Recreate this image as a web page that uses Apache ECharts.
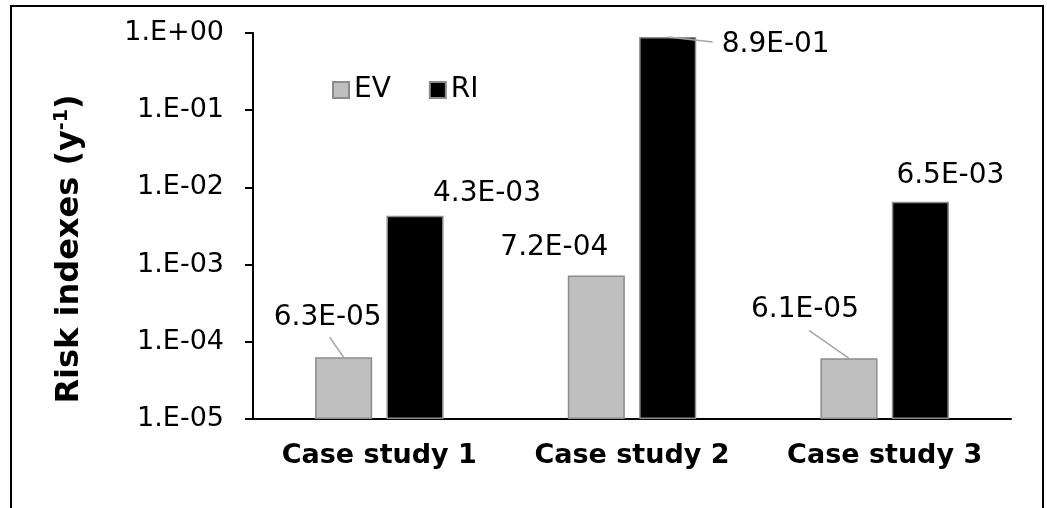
<!DOCTYPE html>
<html>
<head>
<meta charset="utf-8">
<script src="https://cdn.jsdelivr.net/npm/echarts@6/dist/echarts.min.js"></script>
<style>
html,body{margin:0;padding:0;background:#fff;}
#chart{width:1047px;height:508px;}
</style>
</head>
<body>
<div id="chart"></div>
<script>
// ---- data ----
const categories = ['Case study 1', 'Case study 2', 'Case study 3'];
const seriesNames = ['EV', 'RI'];
const evValues = [6.3e-5, 7.2e-4, 6.1e-5];
const riValues = [4.3e-3, 8.9e-1, 6.5e-3];
const yTickLabels = ['1.E-05', '1.E-04', '1.E-03', '1.E-02', '1.E-01', '1.E+00'];
const yMin = 1e-5, yMax = 1;

// ---- styling / label placement (pixel offsets from the default 'top' position) ----
const evLabelShift = [[-16, -21], [-42, -9], [-44, -30]];
const riLabelShift = [[72, -3], [108, 27], [30, -7]];
// leader lines: [seriesIndex, categoryIndex, dx, dy] from bar top-centre
const leaders = [[0, 0, -14, -20], [0, 2, -40, -28], [1, 1, 45, 5]];

const BAR_WIDTH = 0.226;   // fraction of category band
const BAR_GAP = 0.25;      // fraction of bar width
const FONT = 'DejaVu Sans';

function fmtExp(v) {
  const e = Math.floor(Math.log10(v) + 1e-9);
  const m = v / Math.pow(10, e);
  const sign = e < 0 ? '-' : '+';
  const ae = Math.abs(e);
  return m.toFixed(1) + 'E' + sign + (ae < 10 ? '0' + ae : '' + ae);
}

const seriesValues = [evValues, riValues];
const leaderData = leaders.map(l => [l[1], seriesValues[l[0]][l[1]], l[0], l[2], l[3]]);

const chart = echarts.init(document.getElementById('chart'), null, { renderer: 'canvas' });

const labelStyle = {
  show: true,
  position: 'top',
  distance: 5,
  color: '#000',
  fontFamily: FONT,
  fontSize: 28,
  formatter: p => fmtExp(p.value)
};

const option = {
  backgroundColor: '#fff',
  animation: false,
  graphic: [{
    type: 'rect',
    shape: { x: 11, y: 6, width: 1032, height: 600 },
    style: { fill: 'none', stroke: '#000', lineWidth: 2 },
    silent: true,
    z: 100
  }],
  legend: {
    data: seriesNames,
    left: 327,
    top: 71,
    itemWidth: 16,
    itemHeight: 16,
    itemGap: 38,
    icon: 'rect',
    textStyle: { fontFamily: FONT, fontSize: 28, color: '#000' }
  },
  grid: { left: 253, right: 36, top: 33, bottom: 89, containLabel: false },
  xAxis: {
    type: 'category',
    data: categories,
    axisLine: { lineStyle: { color: '#000', width: 2 } },
    axisTick: { show: false },
    axisLabel: {
      interval: 0,
      color: '#000', fontFamily: FONT, fontWeight: 'bold', fontSize: 27, margin: 23
    }
  },
  yAxis: {
    type: 'log',
    logBase: 10,
    min: yMin,
    max: yMax,
    startValue: yMin,
    splitLine: { show: false },
    axisLine: { show: true, lineStyle: { color: '#000', width: 2 } },
    axisTick: { show: true, length: 8, lineStyle: { color: '#000', width: 2 } },
    minorTick: { show: false },
    axisLabel: {
      color: '#000', fontFamily: FONT, fontSize: 27, margin: 29,
      formatter: v => yTickLabels[Math.round(Math.log10(v)) + 5]
    },
    name: 'Risk indexes (y{sup|-1})',
    nameLocation: 'middle',
    nameRotate: 90,
    nameGap: 167,
    nameTextStyle: {
      color: '#000', fontFamily: FONT, fontWeight: 'bold', fontSize: 32,
      padding: [0, 46, 0, 0],
      rich: {
        sup: { fontFamily: FONT, fontWeight: 'bold', fontSize: 19, verticalAlign: 'bottom', padding: [0, 0, 14, 0], color: '#000' }
      }
    }
  },
  series: [
    {
      name: seriesNames[0],
      type: 'bar',
      data: evValues,
      barWidth: (BAR_WIDTH * 100) + '%',
      barGap: (BAR_GAP * 100) + '%',
      itemStyle: { color: '#bfbfbf', borderColor: '#8c8c8c', borderWidth: 1.5 },
      label: labelStyle,
      labelLayout: p => ({ dx: evLabelShift[p.dataIndex][0], dy: evLabelShift[p.dataIndex][1] })
    },
    {
      name: seriesNames[1],
      type: 'bar',
      data: riValues,
      barWidth: (BAR_WIDTH * 100) + '%',
      barGap: (BAR_GAP * 100) + '%',
      itemStyle: { color: '#000000', borderColor: '#8c8c8c', borderWidth: 1.5 },
      label: labelStyle,
      labelLayout: p => ({ dx: riLabelShift[p.dataIndex][0], dy: riLabelShift[p.dataIndex][1] })
    },
    {
      name: 'leaders',
      type: 'custom',
      silent: true,
      z: 10,
      data: leaderData,
      encode: { x: 0, y: 1 },
      renderItem: function (params, api) {
        const top = api.coord([api.value(0), api.value(1)]);
        const band = api.size([1, 0])[0];
        const bw = band * BAR_WIDTH;
        const half = (bw + bw * BAR_GAP) / 2;
        const cx = top[0] + (api.value(2) === 0 ? -half : half);
        return {
          type: 'line',
          shape: { x1: cx, y1: top[1], x2: cx + api.value(3), y2: top[1] + api.value(4) },
          style: { stroke: '#a6a6a6', lineWidth: 1.5 }
        };
      }
    }
  ]
};
chart.setOption(option);
</script>
</body>
</html>
